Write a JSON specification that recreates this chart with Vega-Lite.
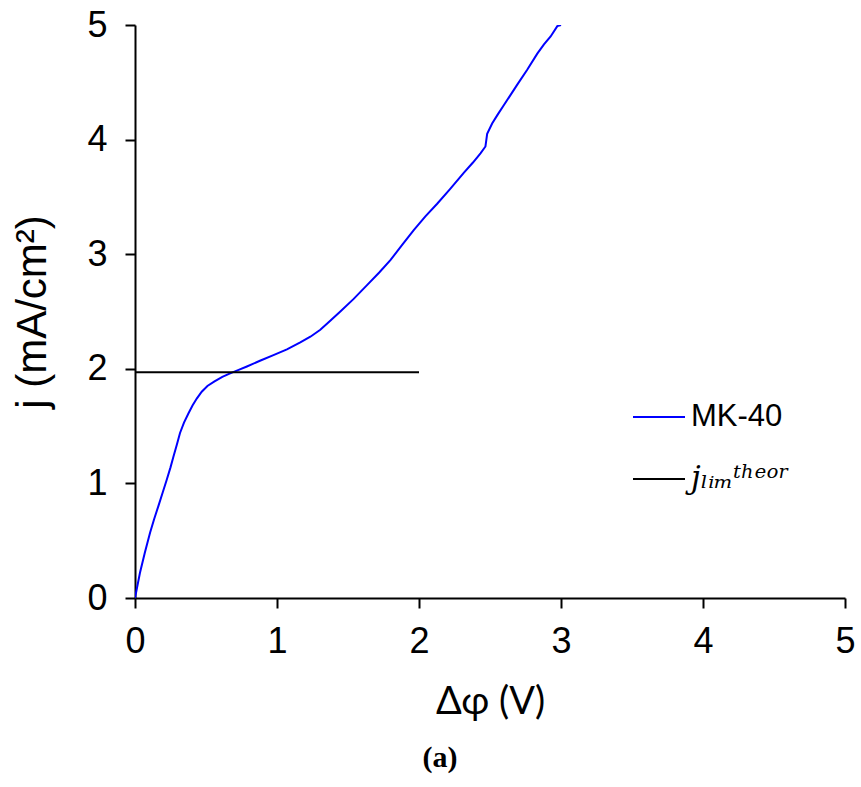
{
  "$schema": "https://vega.github.io/schema/vega-lite/v6.json",
  "width": 710,
  "height": 573,
  "autosize": {"type": "none"},
  "padding": {"left": 135, "top": 25, "right": 16, "bottom": 189},
  "background": "white",
  "config": {
    "view": {"stroke": null},
    "axis": {
      "grid": false,
      "domainColor": "black",
      "domainWidth": 2,
      "tickColor": "black",
      "tickWidth": 2,
      "tickSize": 10,
      "labelFont": "Liberation Sans",
      "labelFontSize": 36,
      "labelColor": "black",
      "labelFlush": false,
      "labelOverlap": false,
      "titleColor": "black",
      "titleFontWeight": "normal"
    }
  },
  "title": {
    "text": "(a)",
    "orient": "bottom",
    "anchor": "middle",
    "frame": "group",
    "font": "Liberation Serif",
    "fontWeight": "bold",
    "fontSize": 30,
    "color": "black",
    "offset": 22,
    "dx": -50
  },
  "data": {
    "values": [
      {"series": "MK-40", "v": 0, "j": 0},
      {"series": "MK-40", "v": 0.035, "j": 0.22},
      {"series": "MK-40", "v": 0.07, "j": 0.4},
      {"series": "MK-40", "v": 0.106, "j": 0.57},
      {"series": "MK-40", "v": 0.135, "j": 0.69},
      {"series": "MK-40", "v": 0.164, "j": 0.8},
      {"series": "MK-40", "v": 0.195, "j": 0.92},
      {"series": "MK-40", "v": 0.223, "j": 1.03},
      {"series": "MK-40", "v": 0.25, "j": 1.14},
      {"series": "MK-40", "v": 0.27, "j": 1.23},
      {"series": "MK-40", "v": 0.295, "j": 1.34},
      {"series": "MK-40", "v": 0.317, "j": 1.44},
      {"series": "MK-40", "v": 0.345, "j": 1.53},
      {"series": "MK-40", "v": 0.376, "j": 1.61},
      {"series": "MK-40", "v": 0.405, "j": 1.68},
      {"series": "MK-40", "v": 0.435, "j": 1.74},
      {"series": "MK-40", "v": 0.47, "j": 1.8},
      {"series": "MK-40", "v": 0.51, "j": 1.85},
      {"series": "MK-40", "v": 0.56, "j": 1.89},
      {"series": "MK-40", "v": 0.615, "j": 1.93},
      {"series": "MK-40", "v": 0.67, "j": 1.96},
      {"series": "MK-40", "v": 0.73, "j": 1.99},
      {"series": "MK-40", "v": 0.788, "j": 2.02},
      {"series": "MK-40", "v": 0.88, "j": 2.07},
      {"series": "MK-40", "v": 0.975, "j": 2.12},
      {"series": "MK-40", "v": 1.07, "j": 2.17},
      {"series": "MK-40", "v": 1.164, "j": 2.23},
      {"series": "MK-40", "v": 1.235, "j": 2.28},
      {"series": "MK-40", "v": 1.305, "j": 2.34},
      {"series": "MK-40", "v": 1.375, "j": 2.42},
      {"series": "MK-40", "v": 1.446, "j": 2.5},
      {"series": "MK-40", "v": 1.54, "j": 2.61},
      {"series": "MK-40", "v": 1.634, "j": 2.73},
      {"series": "MK-40", "v": 1.72, "j": 2.84},
      {"series": "MK-40", "v": 1.8, "j": 2.95},
      {"series": "MK-40", "v": 1.88, "j": 3.08},
      {"series": "MK-40", "v": 1.963, "j": 3.21},
      {"series": "MK-40", "v": 2.045, "j": 3.33},
      {"series": "MK-40", "v": 2.128, "j": 3.44},
      {"series": "MK-40", "v": 2.22, "j": 3.57},
      {"series": "MK-40", "v": 2.315, "j": 3.71},
      {"series": "MK-40", "v": 2.38, "j": 3.8},
      {"series": "MK-40", "v": 2.433, "j": 3.88},
      {"series": "MK-40", "v": 2.468, "j": 3.94},
      {"series": "MK-40", "v": 2.48, "j": 4.05},
      {"series": "MK-40", "v": 2.515, "j": 4.14},
      {"series": "MK-40", "v": 2.555, "j": 4.22},
      {"series": "MK-40", "v": 2.597, "j": 4.3},
      {"series": "MK-40", "v": 2.645, "j": 4.39},
      {"series": "MK-40", "v": 2.692, "j": 4.48},
      {"series": "MK-40", "v": 2.762, "j": 4.61},
      {"series": "MK-40", "v": 2.833, "j": 4.75},
      {"series": "MK-40", "v": 2.88, "j": 4.83},
      {"series": "MK-40", "v": 2.927, "j": 4.9},
      {"series": "MK-40", "v": 2.974, "j": 4.99},
      {"series": "MK-40", "v": 3.0, "j": 5.0},
      {"series": "jlim", "v": 0, "j": 1.97},
      {"series": "jlim", "v": 2, "j": 1.97}
    ]
  },
  "mark": {"type": "line", "strokeWidth": 2, "clip": true},
  "encoding": {
    "x": {
      "field": "v",
      "type": "quantitative",
      "scale": {"domain": [0, 5]},
      "axis": {
        "title": "Δφ (V)",
        "values": [0, 1, 2, 3, 4, 5],
        "labelPadding": 16,
        "titleFont": "Lato",
        "titleFontSize": 38,
        "titlePadding": 24
      }
    },
    "y": {
      "field": "j",
      "type": "quantitative",
      "scale": {"domain": [0, 5]},
      "axis": {
        "title": "j (mA/cm²)",
        "values": [0, 1, 2, 3, 4, 5],
        "labelPadding": 18,
        "titleFont": "Liberation Sans",
        "titleFontSize": 42,
        "titlePadding": 32
      }
    },
    "color": {
      "field": "series",
      "type": "nominal",
      "scale": {"domain": ["MK-40", "jlim"], "range": ["#0000ff", "#000000"]},
      "legend": {
        "title": null,
        "orient": "none",
        "legendX": 497,
        "legendY": 365,
        "padding": 0,
        "symbolType": "stroke",
        "symbolSize": 2704,
        "symbolStrokeWidth": 2,
        "labelFont": "Liberation Sans",
        "labelFontSize": 31,
        "labelColor": "black",
        "labelOffset": 5,
        "labelLimit": 0,
        "rowPadding": 20,
        "labelExpr": "datum.label == 'jlim' ? 'jₗᵢₘᵗʰᵉᵒʳ' : datum.label",
        "encode": {
          "labels": {
            "update": {
              "fontStyle": {"signal": "datum.value == 'jlim' ? 'italic' : 'normal'"},
              "font": {"signal": "datum.value == 'jlim' ? 'DejaVu Serif' : 'Liberation Sans'"}
            }
          }
        }
      }
    }
  }
}
